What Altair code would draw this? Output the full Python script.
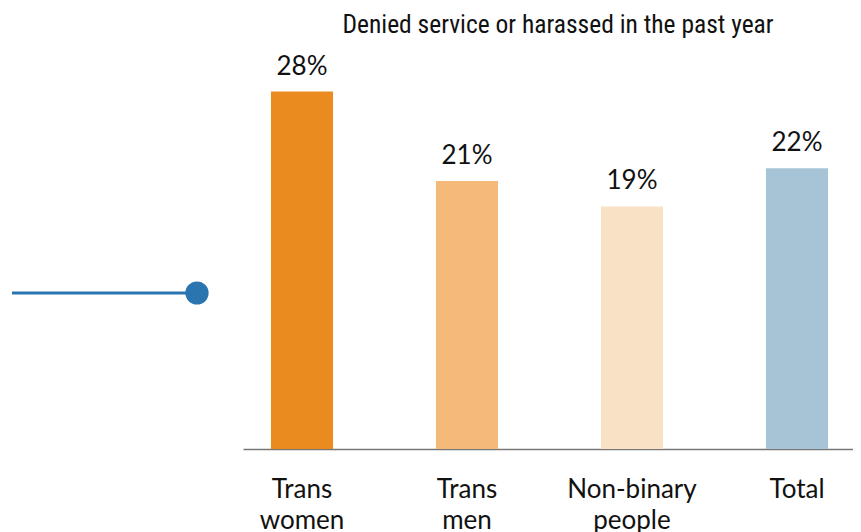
import altair as alt
import pandas as pd

categories = ["Trans women", "Trans men", "Non-binary people", "Total"]
values = [28, 21, 19, 22]
labels = ["28%", "21%", "19%", "22%"]
colors = ["#E98B1F", "#F5BA7A", "#F8E1C4", "#A7C4D6"]

df = pd.DataFrame({"cat": categories, "val": values, "lab": labels})

x = alt.X("cat:N", sort=categories, title=None,
          scale=alt.Scale(paddingInner=0.624, paddingOuter=0.1605, align=0.528),
          axis=alt.Axis(labelExpr="split(datum.label, ' ')", labelAngle=0,
                        labelFont="Lato", labelFontSize=26, labelColor="#111",
                        labelPadding=27, labelLineHeight=31, ticks=False,
                        domainColor="#777", domainWidth=1.5, labelBaseline="top"))
y = alt.Y("val:Q", scale=alt.Scale(domain=[0, 30], nice=False), axis=None)

bars = alt.Chart(df).mark_bar().encode(
    x=x, y=y,
    color=alt.Color("cat:N", scale=alt.Scale(domain=categories, range=colors), legend=None),
)
text = alt.Chart(df).mark_text(font="Lato", fontSize=26, color="#111",
                               baseline="alphabetic", dy=-17).encode(
    x=alt.X("cat:N", sort=categories), y="val:Q", text="lab:N")

deco = pd.DataFrame({"k": [1]})
rule = alt.Chart(deco).mark_rule(color="#2A74B0", strokeWidth=3).encode(
    x=alt.value(-231), x2=alt.value(-46), y=alt.value(227))
dot = alt.Chart(deco).mark_point(filled=True, color="#2A74B0", opacity=1, size=540).encode(
    x=alt.value(-46), y=alt.value(227))

chart = alt.layer(bars, text, rule, dot).properties(
    width=610, height=383,
    title=alt.TitleParams("Denied service or harassed in the past year",
                          font="'Roboto Condensed', 'Liberation Sans Narrow', 'DejaVu Sans Condensed', sans-serif",
                          fontSize=25.5, fontWeight="normal", color="#111", dx=10, offset=15),
    autosize=alt.AutoSizeParams(type="none"),
    padding={"left": 235, "top": 58, "right": 0, "bottom": 83},
).configure_view(stroke=None)

chart.save("out.html", embed_options={"renderer": "svg", "actions": False})
